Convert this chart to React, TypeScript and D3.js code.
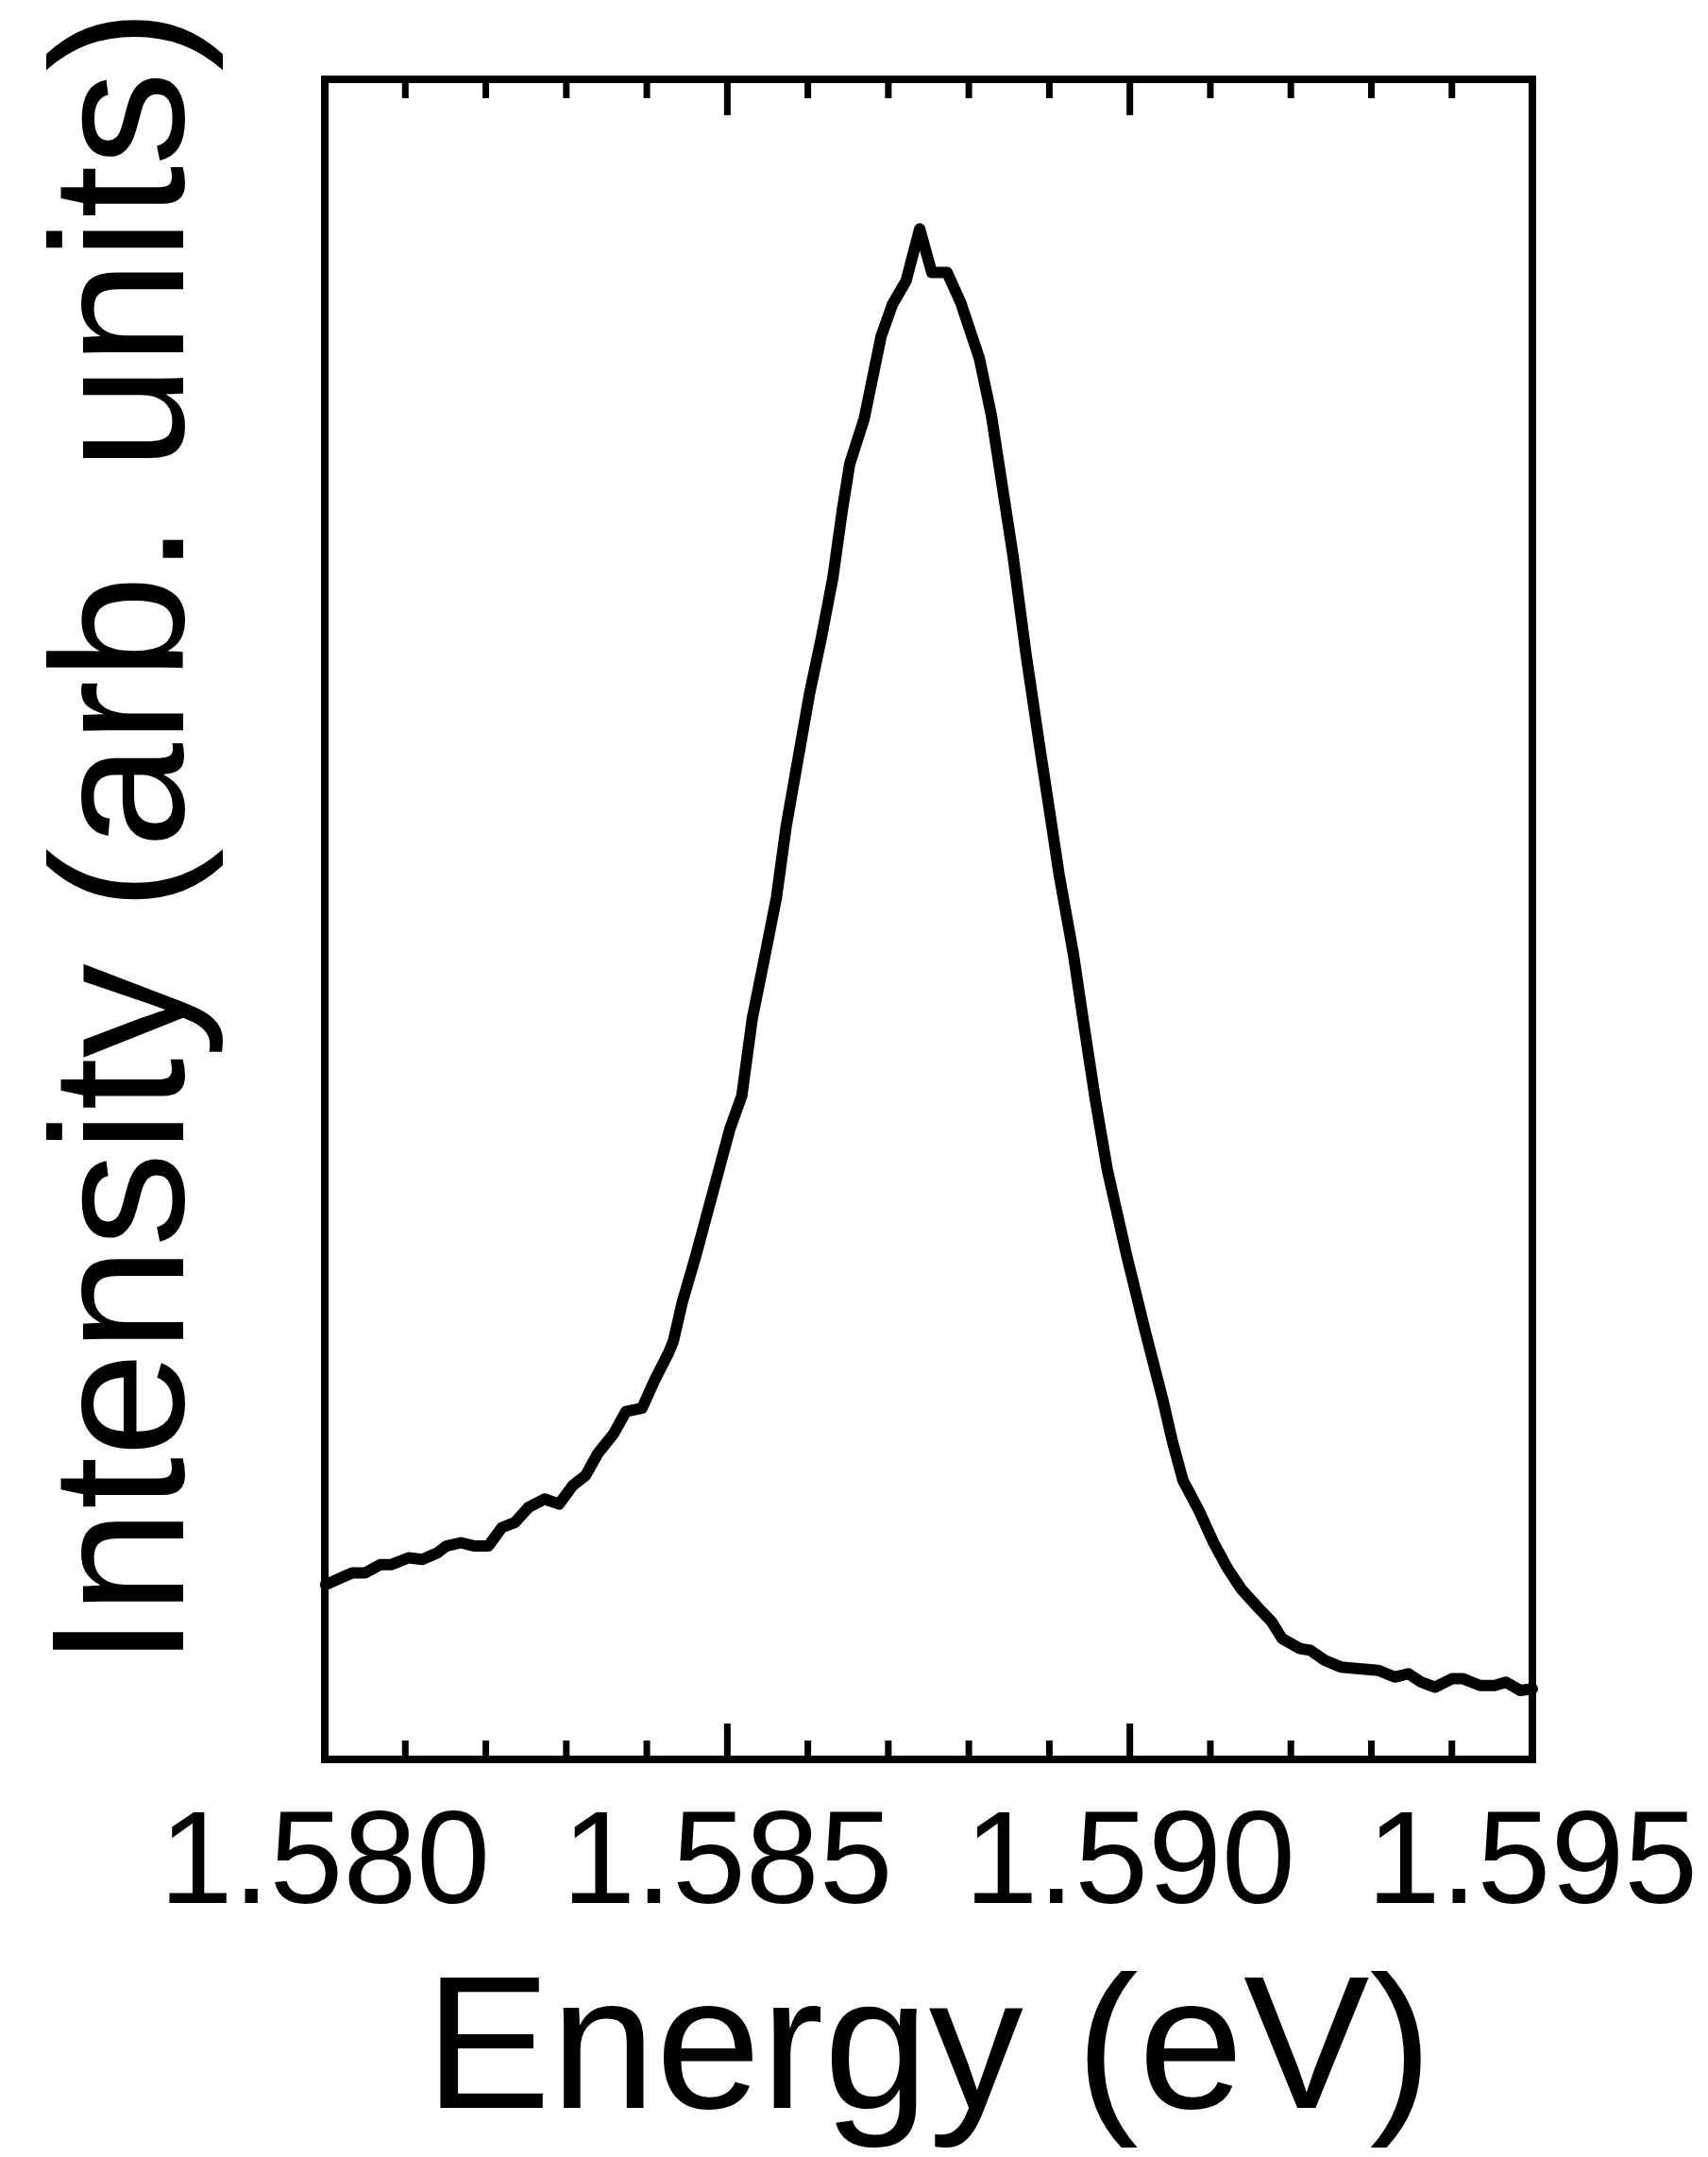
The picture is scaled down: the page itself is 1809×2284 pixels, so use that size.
import React, { useRef, useEffect } from "react";
import * as d3 from "d3";

// PL spectrum (energy in eV, intensity normalised to the frame height)
const energy = [
  1.58001, 1.58034, 1.5805, 1.58069, 1.58083, 1.58104, 1.58121, 1.5814, 1.58151, 1.58169,
  1.58186, 1.58203, 1.5822, 1.58236, 1.58253, 1.58273, 1.58291, 1.58308, 1.58324, 1.58339,
  1.58359, 1.58374, 1.58394, 1.58409, 1.58427, 1.58433, 1.58444, 1.58461, 1.58484, 1.58503,
  1.58518, 1.58531, 1.58547, 1.58561, 1.58573, 1.58588, 1.58602, 1.58617, 1.58631, 1.58643,
  1.58652, 1.5867, 1.58691, 1.58705, 1.58722, 1.58739, 1.58754, 1.58773, 1.5879, 1.58813,
  1.58828, 1.58855, 1.58871, 1.58887, 1.58901, 1.58912, 1.5893, 1.58943, 1.58957, 1.58972,
  1.58996, 1.59019, 1.59041, 1.59053, 1.59066, 1.59086, 1.59104, 1.59121, 1.59139, 1.5916,
  1.59176, 1.59189, 1.59211, 1.59224, 1.59242, 1.59262, 1.59285, 1.59309, 1.59329, 1.59346,
  1.59362, 1.59379, 1.594, 1.59414, 1.59435, 1.59453, 1.59467, 1.59485, 1.595,
];
const intensity = [
  0.104, 0.111, 0.111, 0.116, 0.116, 0.12, 0.119, 0.123, 0.127, 0.129,
  0.127, 0.127, 0.138, 0.141, 0.15, 0.155, 0.152, 0.163, 0.169, 0.182,
  0.194, 0.207, 0.209, 0.225, 0.242, 0.249, 0.272, 0.3, 0.341, 0.375,
  0.395, 0.441, 0.479, 0.513, 0.555, 0.596, 0.634, 0.668, 0.703, 0.744,
  0.771, 0.798, 0.847, 0.866, 0.88, 0.911, 0.885, 0.885, 0.867, 0.834,
  0.8, 0.716, 0.658, 0.606, 0.562, 0.527, 0.479, 0.437, 0.393, 0.351,
  0.3, 0.255, 0.214, 0.189, 0.166, 0.148, 0.129, 0.114, 0.101, 0.09,
  0.082, 0.072, 0.066, 0.065, 0.059, 0.055, 0.054, 0.053, 0.049, 0.051,
  0.046, 0.043, 0.048, 0.048, 0.044, 0.044, 0.046, 0.041, 0.042,
];

const xDomain = [1.58, 1.595];
const majorTicks = [1.58, 1.585, 1.59, 1.595];
const minorTicks = [
  1.581, 1.582, 1.583, 1.584, 1.586, 1.587, 1.588, 1.589, 1.591, 1.592, 1.593, 1.594,
];

const W = 1809;
const H = 2284;
const FONT = "'Liberation Sans', Arial, sans-serif";

const App = () => {
  const ref = useRef<SVGSVGElement | null>(null);

  useEffect(() => {
    document.body.style.margin = "0";
    const svg = d3.select(ref.current);
    svg.selectAll("*").remove();

    const x = d3.scaleLinear().domain(xDomain).range([344, 1623]);
    const y = d3.scaleLinear().domain([0, 1]).range([1863, 84]);
    const [x0, x1] = x.range();
    const [yb, yt] = y.range();

    const data = energy.map((e, i) => ({ e, v: intensity[i] }));

    // spectrum
    svg
      .append("path")
      .datum(data)
      .attr("fill", "none")
      .attr("stroke", "#000")
      .attr("stroke-width", 12)
      .attr("stroke-linejoin", "round")
      .attr("stroke-linecap", "round")
      .attr(
        "d",
        d3
          .line<{ e: number; v: number }>()
          .x((d) => x(d.e))
          .y((d) => y(d.v))
      );

    // inward ticks, top and bottom
    const tickGroup = svg.append("g").attr("stroke", "#000").attr("stroke-width", 7);
    const drawTicks = (vals: number[], len: number) => {
      vals.forEach((v) => {
        tickGroup.append("line").attr("x1", x(v)).attr("x2", x(v)).attr("y1", yb).attr("y2", yb - len);
        tickGroup.append("line").attr("x1", x(v)).attr("x2", x(v)).attr("y1", yt).attr("y2", yt + len);
      });
    };
    drawTicks(minorTicks, 20);
    drawTicks(majorTicks, 38);

    // frame
    svg
      .append("rect")
      .attr("x", x0)
      .attr("y", yt)
      .attr("width", x1 - x0)
      .attr("height", yb - yt)
      .attr("fill", "none")
      .attr("stroke", "#000")
      .attr("stroke-width", 8);

    // tick labels
    svg
      .append("g")
      .selectAll("text")
      .data(majorTicks)
      .join("text")
      .attr("x", (d) => x(d))
      .attr("y", 2015)
      .attr("text-anchor", "middle")
      .attr("font-family", FONT)
      .attr("font-size", 140)
      .text((d) => d3.format(".3f")(d));

    // axis titles
    svg
      .append("text")
      .attr("x", (x0 + x1) / 2)
      .attr("y", 2232)
      .attr("text-anchor", "middle")
      .attr("font-family", FONT)
      .attr("font-size", 200)
      .text("Energy (eV)");

    svg
      .append("text")
      .attr("transform", "translate(194,887) rotate(-90)")
      .attr("text-anchor", "middle")
      .attr("font-family", FONT)
      .attr("font-size", 200)
      .text("Intensity (arb. units)");
  }, []);

  return (
    <svg
      ref={ref}
      width={W}
      height={H}
      viewBox={`0 0 ${W} ${H}`}
      style={{ display: "block", background: "#fff" }}
    />
  );
};

export default App;
